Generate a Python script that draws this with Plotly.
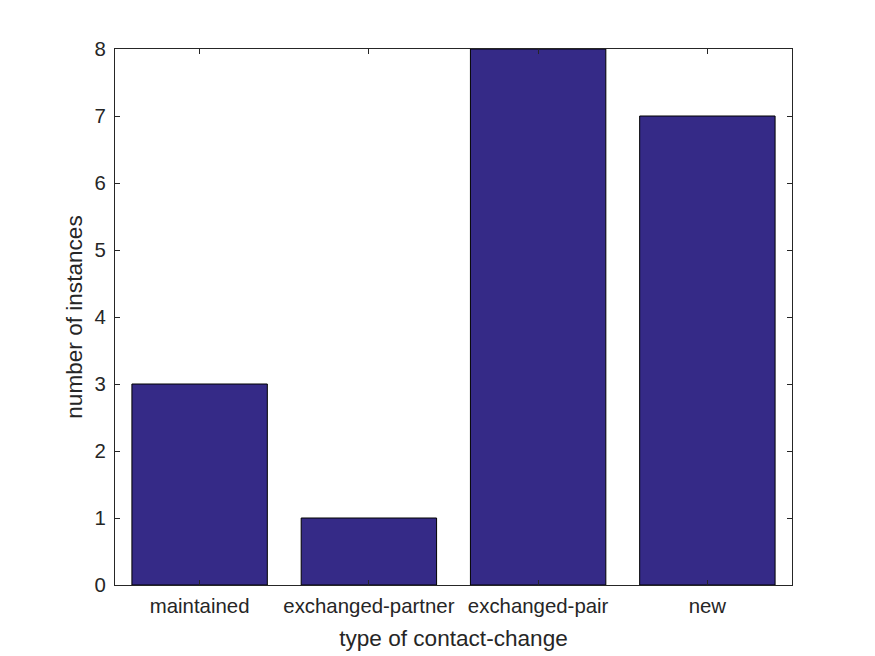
import plotly.graph_objects as go

categories = ["maintained", "exchanged-partner", "exchanged-pair", "new"]
counts = [3, 1, 8, 7]
y_ticks = [0, 1, 2, 3, 4, 5, 6, 7, 8]

FONT = "Liberation Sans, Arial, sans-serif"

fig = go.Figure(go.Bar(
    x=categories, y=counts, width=0.8,
    marker=dict(color="#352A87", line=dict(color="black", width=1)),
))

axis_common = dict(
    showline=True, linecolor="#262626", linewidth=1, mirror="ticks",
    ticks="inside", ticklen=5, tickcolor="#262626", showgrid=False,
    zeroline=False, automargin=False,
    tickfont=dict(family=FONT, size=20.4, color="#262626"),
)

fig.update_layout(
    width=875, height=656,
    margin=dict(l=115, r=83, t=49, b=71),
    plot_bgcolor="white", paper_bgcolor="white",
    showlegend=False,
    xaxis=dict(range=[-0.5, 3.5], ticklabelstandoff=3,
               title=dict(text="type of contact-change", standoff=13,
                          font=dict(family=FONT, size=22.6, color="#262626")), **axis_common),
    yaxis=dict(range=[0, 8], tickvals=y_ticks, ticklabelstandoff=4,
               title=dict(text="number of instances", standoff=5,
                          font=dict(family=FONT, size=22.6, color="#262626")), **axis_common),
)

fig.write_html("out.html", config={"displayModeBar": False},
               post_script="document.body.style.margin='0';")
